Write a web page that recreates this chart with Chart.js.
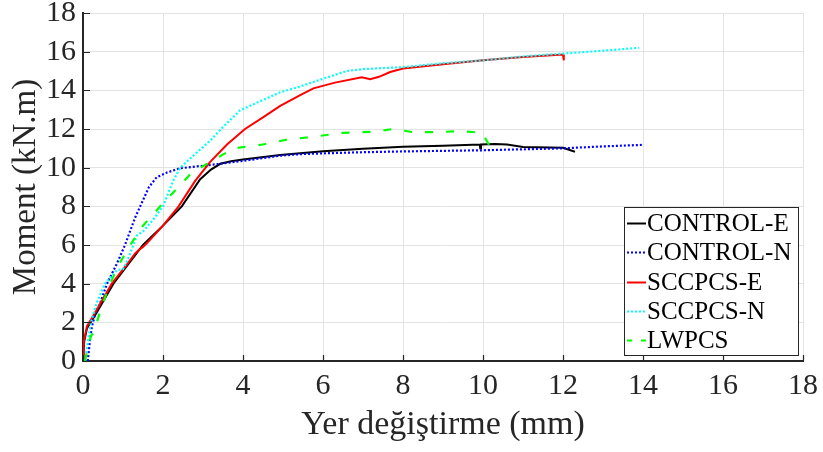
<!DOCTYPE html>
<html>
<head>
<meta charset="utf-8">
<script src="https://cdn.jsdelivr.net/npm/chart.js@4/dist/chart.umd.min.js"></script>
<style>
html,body{margin:0;padding:0;background:#fff;}
#wrap{width:823px;height:452px;position:relative;}
</style>
</head>
<body>
<div id="wrap"><canvas id="c" width="823" height="452"></canvas></div>
<script>
// ---- data ----
const xTicks = [0, 2, 4, 6, 8, 10, 12, 14, 16, 18];
const yTicks = [0, 2, 4, 6, 8, 10, 12, 14, 16, 18];
const seriesNames = ['CONTROL-E', 'CONTROL-N', 'SCCPCS-E', 'SCCPCS-N', 'LWPCS'];

const controlEX = [0, 0.03, 0.1, 0.34, 0.76, 1.5, 2.0, 2.47, 2.93, 3.2, 3.43, 3.7, 4.0, 4.93, 5.43, 6.0, 7.0, 8.0, 9.0, 9.92, 9.93, 9.95, 10.3, 10.6, 11.0, 12.0, 12.3];
const controlEY = [0, 1.0, 1.7, 2.5, 4.0, 6.0, 7.0, 8.0, 9.4, 9.9, 10.2, 10.33, 10.42, 10.65, 10.75, 10.85, 10.98, 11.08, 11.14, 11.2, 11.0, 11.2, 11.22, 11.2, 11.07, 11.03, 10.82];

const controlNX = [0.12, 0.17, 0.22, 0.3, 0.43, 0.6, 0.85, 1.05, 1.3, 1.43, 1.65, 1.84, 2.1, 2.43, 3.0, 3.43, 4.0, 4.93, 5.43, 6.0, 7.0, 8.0, 9.0, 10.0, 11.0, 12.0, 13.0, 14.0];
const controlNY = [0, 1.0, 1.75, 2.4, 3.0, 4.0, 5.05, 6.0, 7.4, 8.0, 9.0, 9.5, 9.75, 9.97, 10.1, 10.2, 10.35, 10.62, 10.7, 10.74, 10.8, 10.84, 10.87, 10.9, 10.95, 11.0, 11.1, 11.18];

const sccpcsEX = [0, 0.02, 0.1, 0.3, 0.72, 1.1, 1.3, 1.4, 1.5, 1.6, 2.0, 2.39, 2.8, 3.18, 3.6, 4.05, 4.5, 4.93, 5.43, 5.76, 6.3, 6.97, 7.18, 7.4, 7.68, 8.0, 9.0, 10.0, 11.0, 12.0, 12.02];
const sccpcsEY = [0, 1.0, 1.8, 2.5, 4.0, 5.0, 5.55, 5.75, 5.9, 6.1, 7.0, 8.0, 9.3, 10.3, 11.2, 12.0, 12.6, 13.2, 13.75, 14.1, 14.4, 14.67, 14.57, 14.7, 14.95, 15.13, 15.35, 15.55, 15.72, 15.85, 15.55];

const sccpcsNX = [0.05, 0.12, 0.2, 0.34, 0.55, 0.85, 1.0, 1.15, 1.35, 1.5, 1.75, 2.0, 2.25, 2.43, 2.8, 3.18, 3.5, 3.93, 4.5, 4.93, 5.43, 6.0, 6.6, 7.0, 8.0, 9.0, 10.0, 11.0, 12.0, 13.0, 13.9];
const sccpcsNY = [0, 1.0, 2.0, 3.0, 4.0, 4.7, 4.75, 5.4, 6.5, 6.7, 7.3, 8.0, 9.3, 10.0, 10.7, 11.4, 12.1, 12.97, 13.5, 13.9, 14.2, 14.6, 15.0, 15.1, 15.2, 15.4, 15.55, 15.75, 15.9, 16.05, 16.2];

const lwpcsX = [0.05, 0.1, 0.2, 0.28, 0.43, 0.68, 0.9, 1.18, 1.5, 1.93, 2.43, 2.7, 3.18, 3.77, 4.5, 5.1, 5.76, 6.5, 7.2, 7.76, 8.27, 9.0, 9.43, 9.98, 10.2];
const lwpcsY = [0, 0.5, 1.3, 1.5, 2.6, 4.0, 5.0, 6.0, 7.0, 8.0, 9.1, 9.7, 10.3, 11.0, 11.2, 11.45, 11.6, 11.8, 11.85, 12.0, 11.83, 11.85, 11.9, 11.8, 11.0];

// ---- build chart ----
const FONT = "'Liberation Serif', 'Times New Roman', serif";
function pts(xs, ys) { return xs.map((x, i) => ({ x: x, y: ys[i] })); }

const styles = [
  { color: '#000000', dash: [], width: 2 },
  { color: '#0000ff', dash: [2, 2], width: 2.2 },
  { color: '#ff0000', dash: [], width: 2 },
  { color: '#00ffff', dash: [2, 2], width: 2.2 },
  { color: '#00ff00', dash: [8, 13], width: 2.2 }
];
const xsAll = [controlEX, controlNX, sccpcsEX, sccpcsNX, lwpcsX];
const ysAll = [controlEY, controlNY, sccpcsEY, sccpcsNY, lwpcsY];

const datasets = seriesNames.map((name, i) => ({
  label: name,
  data: pts(xsAll[i], ysAll[i]),
  showLine: true,
  borderColor: styles[i].color,
  backgroundColor: styles[i].color,
  borderWidth: styles[i].width,
  borderDash: styles[i].dash,
  pointRadius: 0,
  tension: 0,
  fill: false,
  order: seriesNames.length - i
}));

const innerTicks = {
  id: 'innerTicks',
  afterDatasetsDraw(chart) {
    const ctx = chart.ctx, xs = chart.scales.x, ys = chart.scales.y, a = chart.chartArea;
    ctx.save();
    ctx.strokeStyle = '#262626';
    ctx.lineWidth = 1.2;
    ctx.beginPath();
    xTicks.forEach(v => { const p = Math.round(xs.getPixelForValue(v)) + 0.5; ctx.moveTo(p, a.bottom); ctx.lineTo(p, a.bottom - 6); });
    yTicks.forEach(v => { const p = Math.round(ys.getPixelForValue(v)) + 0.5; ctx.moveTo(a.left, p); ctx.lineTo(a.left + 7, p); });
    ctx.stroke();
    ctx.restore();
  }
};

const boxLegend = {
  id: 'boxLegend',
  afterDraw(chart) {
    const ctx = chart.ctx;
    const bx = 624, by = 207, bw = 174, bh = 148;
    ctx.save();
    ctx.fillStyle = '#ffffff';
    ctx.fillRect(bx, by, bw, bh);
    ctx.strokeStyle = '#262626';
    ctx.lineWidth = 1;
    ctx.strokeRect(bx + 0.5, by + 0.5, bw, bh);
    ctx.font = '25px ' + FONT;
    ctx.textBaseline = 'middle';
    ctx.textAlign = 'left';
    chart.data.datasets.forEach((ds, i) => {
      const y = Math.round(by + 16 + i * 29.3) + 0.5;
      ctx.strokeStyle = ds.borderColor;
      ctx.lineWidth = ds.borderWidth;
      ctx.setLineDash(ds.borderDash.length ? (ds.borderDash[0] > 4 ? [5, 9] : ds.borderDash) : []);
      ctx.beginPath();
      ctx.moveTo(627, y);
      ctx.lineTo(646, y);
      ctx.stroke();
      ctx.setLineDash([]);
      ctx.fillStyle = '#000000';
      ctx.fillText(ds.label, 647, y + 1);
    });
    ctx.restore();
  }
};

function zeroPad(scale) {
  scale.paddingTop = 0; scale.paddingBottom = 0;
  scale.paddingLeft = 0; scale.paddingRight = 0;
}

new Chart(document.getElementById('c'), {
  type: 'scatter',
  data: { datasets: datasets },
  options: {
    responsive: false,
    animation: false,
    devicePixelRatio: 1,
    layout: { padding: { top: 13, right: 20, left: 0, bottom: 0 } },
    plugins: { legend: { display: false }, tooltip: { enabled: false } },
    scales: {
      x: {
        type: 'linear', min: 0, max: 18,
        afterBuildTicks(scale) { scale.ticks = xTicks.map(v => ({ value: v })); },
        ticks: { color: '#262626', font: { family: FONT, size: 30, lineHeight: 1 }, padding: 10, maxRotation: 0 },
        grid: { color: '#e3e3e3', lineWidth: 1, drawTicks: false },
        border: { color: '#262626', width: 2 },
        title: { display: true, text: 'Yer değiştirme (mm)', color: '#262626', font: { family: FONT, size: 34, lineHeight: 1.2 }, padding: { top: 0, bottom: 7 } },
        afterFit(scale) { scale.height = 91; zeroPad(scale); }
      },
      y: {
        type: 'linear', min: 0, max: 18,
        afterBuildTicks(scale) { scale.ticks = yTicks.map(v => ({ value: v })); },
        ticks: { color: '#262626', font: { family: FONT, size: 30, lineHeight: 0.9 }, padding: 7 },
        grid: { color: '#e3e3e3', lineWidth: 1, drawTicks: false },
        border: { color: '#262626', width: 2 },
        title: { display: true, text: 'Moment (kN.m)', color: '#262626', font: { family: FONT, size: 33, lineHeight: 1.2 }, padding: { top: 7, bottom: 0 } },
        afterFit(scale) { scale.width = 83; zeroPad(scale); }
      }
    }
  },
  plugins: [innerTicks, boxLegend]
});
</script>
</body>
</html>
